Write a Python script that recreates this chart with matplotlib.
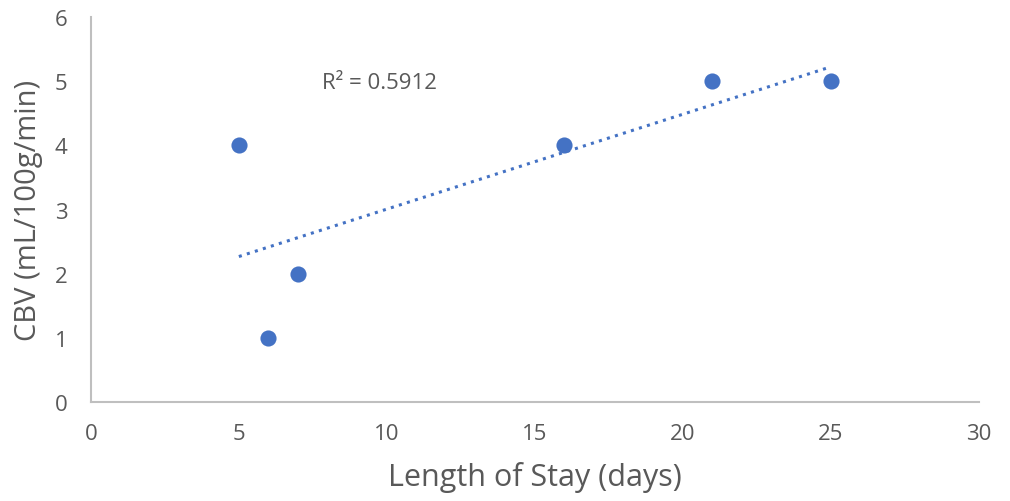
import numpy as np
import matplotlib
matplotlib.use("Agg")
import matplotlib.pyplot as plt

# length of stay vs CBV
length_of_stay = [5, 6, 7, 16, 21, 25]
cbv = [4, 1, 2, 4, 5, 5]
x_ticks = [0, 5, 10, 15, 20, 25, 30]
y_ticks = [0, 1, 2, 3, 4, 5, 6]

plt.rcParams['font.family'] = ['Open Sans', 'DejaVu Sans']

blue = '#4472C4'
grey_text = '#595959'

fig = plt.figure(figsize=(10.1, 5.02), dpi=100)
ax = fig.add_axes([0.090, 0.197, 0.879, 0.767])

ax.scatter(length_of_stay, cbv, s=135, color=blue, zorder=3, linewidths=0)

# linear trendline + R²
x = np.array(length_of_stay, dtype=float)
y = np.array(cbv, dtype=float)
slope, intercept = np.polyfit(x, y, 1)
fit = slope * x + intercept
r2 = 1 - np.sum((y - fit) ** 2) / np.sum((y - y.mean()) ** 2)
xs = np.array([x.min(), x.max()])
ax.plot(xs, slope * xs + intercept, color=blue, lw=2.2,
        linestyle=(0, (1.0, 1.75)), zorder=2)
ax.text(7.8, 4.98, f'R² = {r2:.4f}', fontsize=16, color=grey_text,
        ha='left', va='center')

ax.set_xlim(0, 30)
ax.set_ylim(0, 6)
ax.set_xticks(x_ticks)
ax.set_yticks(y_ticks)
ax.tick_params(length=0, labelsize=16, labelcolor=grey_text)
ax.tick_params(axis='x', pad=15)
ax.tick_params(axis='y', pad=17)

for side in ['top', 'right']:
    ax.spines[side].set_visible(False)
for side in ['left', 'bottom']:
    ax.spines[side].set_color('#bfbfbf')
    ax.spines[side].set_linewidth(1.5)

ax.set_xlabel('Length of Stay (days)', fontsize=22, color=grey_text, labelpad=12)
ax.set_ylabel('CBV (mL/100g/min)', fontsize=21, color=grey_text, labelpad=8)

fig.savefig('out.png', dpi=100)
